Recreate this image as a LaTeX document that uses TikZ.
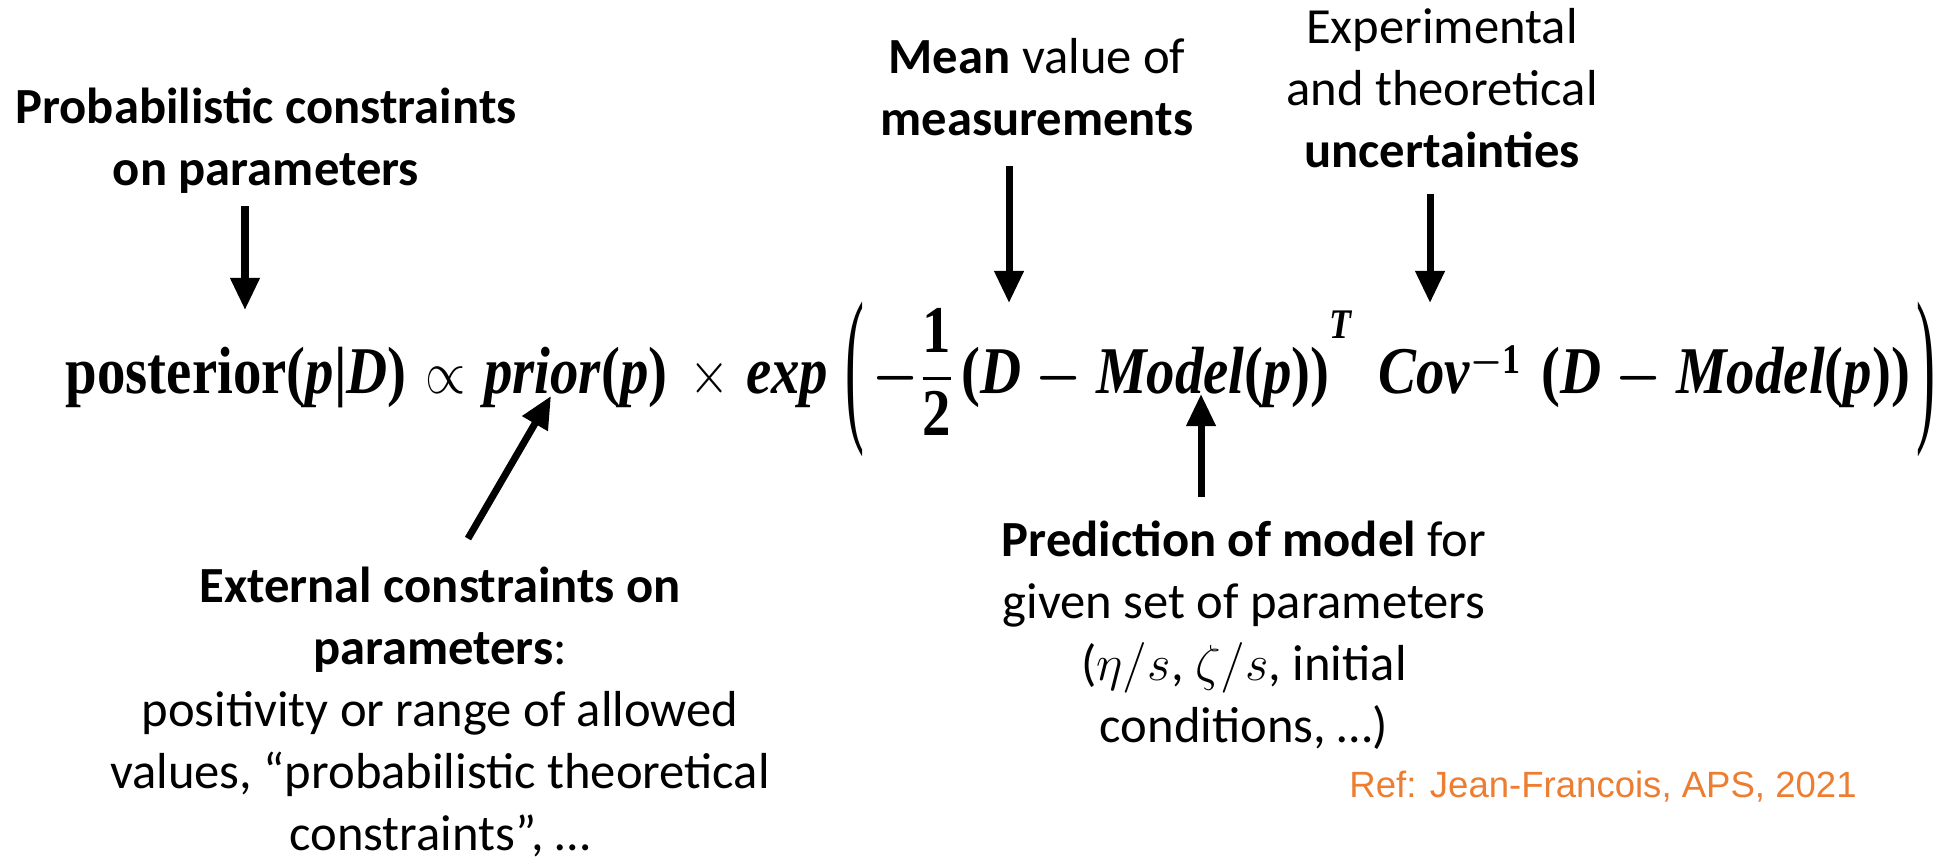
\documentclass[tikz,border=0pt]{standalone}
\usepackage{amsmath,amssymb}
\usepackage{bm}
\usepackage[no-math]{fontspec}
\setmainfont{Carlito}
\newfontfamily\reffont{Liberation Sans}
\newfontfamily\eqfont{Liberation Serif}
\usetikzlibrary{arrows.meta, positioning, calc}
\definecolor{RefOrange}{RGB}{237,125,49}
\newcommand{\eqparen}[1]{\raisebox{-0.27cm}{\resizebox*{\width}{1.55cm}{\mdseries\upshape #1}}}
\newcommand{\eqsup}[1]{{\fontsize{12}{12}\selectfont #1}}

\tikzset{
  lbl/.style={align=center, inner sep=0pt, font=\fontsize{14.4}{17.6}\selectfont},
  arr/.style={line width=2pt, -{Triangle[length=0.32cm,width=0.28cm]}}
}

\begin{document}
\begin{tikzpicture}
  \useasboundingbox[fill=white] (0,0) rectangle (19.41,8.60);
  % the formula
  \node[inner sep=0pt, anchor=base west, font=\eqfont\bfseries\fontsize{19}{23}\selectfont] (eq) at (0.65,4.66)
    {\resizebox{18.70cm}{\height}{posterior(\textit{p}|\textit{D})\hspace{0.22cm}$\propto$\hspace{0.22cm}\textit{prior}(\textit{p})\hspace{0.25cm}$\times$\hspace{0.2cm}%
    \textit{exp}\hspace{0.2cm}\eqparen{(}\hspace{0.1cm}$\bm{-}\genfrac{}{}{0.8pt}{0}{\hbox{1}}{\hbox{2}}$\hspace{0.08cm}(\textit{D} $\bm{-}$
    \textit{Model}(\textit{p}))\raisebox{0.55cm}{\eqsup{\textit{T}}}\hspace{0.3cm}\textit{Cov}\raisebox{0.2cm}{\eqsup{$\bm{-}$1}}\hspace{0.25cm}(\textit{D}
    $\bm{-}$ \textit{Model}(\textit{p}))\hspace{0.08cm}\eqparen{)}}};
  % labels
  \node[lbl] (prob) at (2.66,7.19) {\textbf{Probabilistic constraints}\\\textbf{on parameters}};
  \node[lbl] (mean) at (10.37,7.73) {\textbf{Mean} value of\\\textbf{measurements}};
  \node[lbl] (unc) at (14.42,7.72) {Experimental\\and theoretical\\\textbf{uncertainties}};
  \node[lbl] (pred) at (12.44,2.25) {\textbf{Prediction of model} for\\given set of parameters\\($\eta/s$, $\zeta/s$, initial\\conditions, \dots)};
  \node[lbl] (ext) at (4.40,1.48) {\textbf{External constraints on}\\\textbf{parameters}:\\positivity or range of allowed\\values, “probabilistic theoretical\\constraints”, \dots};
  \node[font=\reffont\fontsize{10.4}{12}\selectfont, text=RefOrange, inner sep=0pt] (ref) at (16.03,0.73)
    {Ref: Jean-Francois, APS, 2021};
  % arrow tips
  \coordinate (probtip) at (2.45,5.50);
  \coordinate (meantip) at (10.09,5.57);
  \coordinate (unctip) at (14.30,5.57);
  \coordinate (predtip) at (12.01,4.66);
  \coordinate (exttip) at (5.51,4.64);
  \draw[arr, shorten <=0.12cm] (prob.south -| probtip) -- (probtip);
  \draw[arr, shorten <=0.3cm] (mean.south -| meantip) -- (meantip);
  \draw[arr, shorten <=0.26cm] (unc.south -| unctip) -- (unctip);
  \draw[arr, shorten <=0.23cm] (pred.north -| predtip) -- (predtip);
  \draw[arr] ([shift={(0.28,0.28)}]ext.north) -- (exttip);
\end{tikzpicture}
\end{document}
